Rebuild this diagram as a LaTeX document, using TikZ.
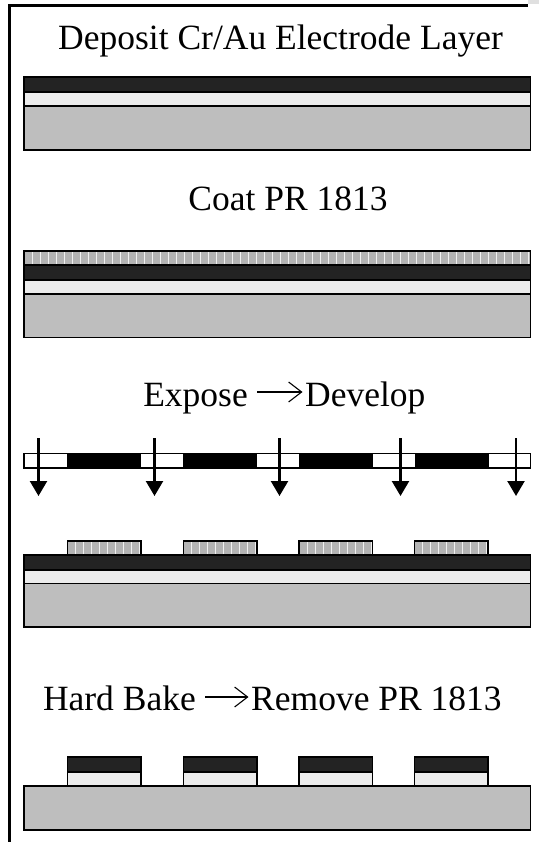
\documentclass[tikz,border=0pt]{standalone}
\usepackage{fontspec}
\setmainfont{Liberation Serif}
\usetikzlibrary{arrows.meta}
\definecolor{metal}{HTML}{232323}
\definecolor{adhesion}{HTML}{ECECEC}
\definecolor{wafer}{HTML}{BEBEBE}
\definecolor{resist}{HTML}{B4B4B4}
\tikzset{
  x=1pt,y=-1pt,
  layer/.style={draw=black,line width=1.7pt},
  caption/.style={font=\fontsize{35.5}{36}\selectfont,inner sep=0pt,anchor=base},
  flow/.style={line width=1.1pt,-{Straight Barb[length=13pt,width=20pt,line width=1.1pt]},shorten <=9pt,shorten >=2.5pt},
  expo/.style={line width=2.3pt,-{Triangle[length=15pt,width=17pt]}},
}
% #1 left, #2 right, #3 top, #4 bottom
\newcommand{\metalbox}[4]{\draw[layer,fill=metal] (#1,#3) rectangle (#2,#4);}
\newcommand{\adhbox}[4]{\draw[layer,fill=adhesion] (#1,#3) rectangle (#2,#4);}
\newcommand{\waferbox}[4]{\draw[layer,fill=wafer] (#1,#3) rectangle (#2,#4);}
\newcommand{\resistbox}[4]{%
  \fill[resist] (#1,#3) rectangle (#2,#4);
  \begin{scope}
    \clip (#1,#3) rectangle (#2,#4);
    \foreach \sx in {8,16,...,520}{\draw[white!80!resist,line width=.8pt] ({#1+\sx},#3) -- ({#1+\sx},#4);}
  \end{scope}
  \draw[layer] (#1,#3) rectangle (#2,#4);}
\begin{document}
\begin{tikzpicture}
\useasboundingbox (0,0) rectangle (539,842);
\fill[white] (0,0) rectangle (539,842);
% frame
\fill[black!12] (528,0) rectangle (539,4);
\draw[line width=2.2pt] (9.5,842) -- (9.5,5.5) -- (528,5.5);
% step 1
\node[caption] (t1) at (280.5,49.5) {Deposit Cr/Au Electrode Layer};
\metalbox{24}{530.5}{77}{92}
\adhbox{24}{530.5}{92}{106}
\waferbox{24}{530.5}{106}{150}
% step 2
\node[caption] (t2) at (288,211) {Coat PR 1813};
\resistbox{24}{530.5}{251}{265}
\metalbox{24}{530.5}{265}{280}
\adhbox{24}{530.5}{280}{294}
\waferbox{24}{530.5}{294}{337.5}
% step 3
\node[caption,anchor=base east] (t3a) at (248,406) {Expose};
\node[caption,anchor=base west] (t3b) at (305,406) {Develop};
\coordinate (fa) at ([yshift=14pt]t3a.base east);
\draw[flow] (fa) -- (t3b.west |- fa);
% mask
\draw[layer,fill=white] (24,453.5) rectangle (530.5,468);
\foreach \mx in {67,183,298.5,414.5}{\fill[black] (\mx,452.6) rectangle ({\mx+74},468.9);}
\foreach \ax/\an in {38.5/a,154.5/b,279.5/c,400.5/d,516/e}{
  \coordinate (s\an) at (\ax,438);
  \coordinate (e\an) at (\ax,496);
  \draw[expo] (s\an) -- (e\an);
}
\foreach \mx in {67.5,183.5,299,414.5}{\resistbox{\mx}{\mx+73.5}{541}{555}}
\metalbox{24}{530.5}{555}{570}
\adhbox{24}{530.5}{570}{583.5}
\waferbox{24}{530.5}{583.5}{627}
% step 4
\node[caption,anchor=base east] (t4a) at (196,710) {Hard Bake};
\node[caption,anchor=base west] (t4b) at (251,710) {Remove PR 1813};
\coordinate (fb) at ([yshift=13pt]t4a.base east);
\draw[flow] (fb) -- (t4b.west |- fb);
\foreach \mx in {67.5,183.5,299,414.5}{
  \metalbox{\mx}{\mx+73.5}{757}{772}
  \adhbox{\mx}{\mx+73.5}{772}{786}
}
\waferbox{24}{530.5}{786}{830}
\end{tikzpicture}
\end{document}
